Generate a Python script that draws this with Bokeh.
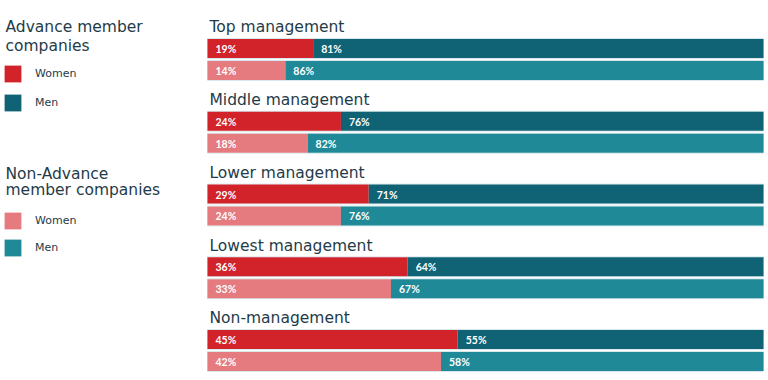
from bokeh.plotting import figure
from bokeh.models import FactorRange, Range1d, Label, Legend, LegendItem, ColumnDataSource
from bokeh.core.properties import value
from bokeh.embed import file_html
from bokeh.resources import INLINE

categories = ["Top management", "Middle management", "Lower management",
              "Lowest management", "Non-management"]
adv_women = [19, 24, 29, 36, 45]
adv_men = [81, 76, 71, 64, 55]
non_women = [14, 18, 24, 33, 42]
non_men = [86, 82, 76, 67, 58]

legend_title_adv = ["Advance member", "companies"]
legend_title_non = ["Non-Advance", "member companies"]
series_labels = ["Women", "Men"]

C_ADV_W = "#D2232A"
C_ADV_M = "#0F6374"
C_NON_W = "#E57B7F"
C_NON_M = "#1F8998"
TXT = "#1E3B49"
FONT = "DejaVu Sans"

factors = []
for c in reversed(categories):
    factors += [(c, "non"), (c, "adv"), (c, "title")]

p = figure(width=768, height=380, output_backend="svg", toolbar_location=None,
           x_range=Range1d(-37.23, 100.9), y_range=FactorRange(*factors, group_padding=0.307),
           x_axis_location=None, y_axis_location=None,
           min_border_left=0, min_border_right=0, min_border_top=15, min_border_bottom=8)
p.grid.visible = False
p.outline_line_color = None
p.background_fill_color = "white"

adv_y = [(c, "adv") for c in categories]
non_y = [(c, "non") for c in categories]
title_y = [(c, "title") for c in categories]

src = ColumnDataSource(dict(
    adv_y=adv_y, non_y=non_y, title_y=title_y, cat=categories,
    adv_w=adv_women, adv_m=adv_men, non_w=non_women, non_m=non_men,
    zero=[0] * len(categories),
    adv_w_lbl=[f"{v}%" for v in adv_women], adv_m_lbl=[f"{v}%" for v in adv_men],
    non_w_lbl=[f"{v}%" for v in non_women], non_m_lbl=[f"{v}%" for v in non_men],
    adv_total=[w + m for w, m in zip(adv_women, adv_men)],
    non_total=[w + m for w, m in zip(non_women, non_men)],
))

H = 0.9
# faint light outline around each full bar
p.hbar(y="adv_y", left="zero", right="adv_total", height=H, source=src,
       fill_color=None, line_color="#D3E6EA", line_width=1)
p.hbar(y="non_y", left="zero", right="non_total", height=H, source=src,
       fill_color=None, line_color="#D3E6EA", line_width=1)

HI = 0.86
r_aw = p.hbar(y="adv_y", left="zero", right="adv_w", height=HI, source=src,
              fill_color=C_ADV_W, line_color=None)
r_am = p.hbar(y="adv_y", left="adv_w", right="adv_total", height=HI, source=src,
              fill_color=C_ADV_M, line_color=None)
r_nw = p.hbar(y="non_y", left="zero", right="non_w", height=HI, source=src,
              fill_color=C_NON_W, line_color=None)
r_nm = p.hbar(y="non_y", left="non_w", right="non_total", height=HI, source=src,
              fill_color=C_NON_M, line_color=None)

lbl_kw = dict(text_color="white", text_font=value("Lato"), text_font_style="bold",
              text_font_size="10.5px", text_baseline="middle", x_offset=8, y_offset=0.5,
              source=src)
p.text(x="zero", y="adv_y", text="adv_w_lbl", **lbl_kw)
p.text(x="adv_w", y="adv_y", text="adv_m_lbl", **lbl_kw)
p.text(x="zero", y="non_y", text="non_w_lbl", **lbl_kw)
p.text(x="non_w", y="non_y", text="non_m_lbl", **lbl_kw)

p.text(x="zero", y="title_y", text="cat", source=src, text_color=TXT,
       text_font=value(FONT), text_font_size="15.5px", text_baseline="alphabetic",
       x_offset=2, y_offset=0.8)

# legend headings
for txt, yy in zip(legend_title_adv, [345.5, 326.5]):
    p.add_layout(Label(x=5, y=yy, x_units="screen", y_units="screen", text=txt,
                       text_color=TXT, text_font=FONT, text_font_size="15.5px",
                       text_baseline="alphabetic"))
for txt, yy in zip(legend_title_non, [198.5, 182.5]):
    p.add_layout(Label(x=5, y=yy, x_units="screen", y_units="screen", text=txt,
                       text_color=TXT, text_font=FONT, text_font_size="15.5px",
                       text_baseline="alphabetic"))

leg_kw = dict(glyph_width=21, glyph_height=21, label_standoff=12, label_height=21,
              label_text_font=FONT, label_text_font_size="11px", label_text_color=TXT,
              border_line_color=None, background_fill_alpha=0, padding=0, margin=0,
              orientation="vertical")
leg1 = Legend(items=[LegendItem(label=series_labels[0], renderers=[r_aw]),
                     LegendItem(label=series_labels[1], renderers=[r_am])],
              location=(2, 259), spacing=8, **leg_kw)
leg2 = Legend(items=[LegendItem(label=series_labels[0], renderers=[r_nw]),
                     LegendItem(label=series_labels[1], renderers=[r_nm])],
              location=(2, 114), spacing=6, **leg_kw)
p.add_layout(leg1, "center")
p.add_layout(leg2, "center")

open("out.html", "w").write(file_html(p, INLINE))
